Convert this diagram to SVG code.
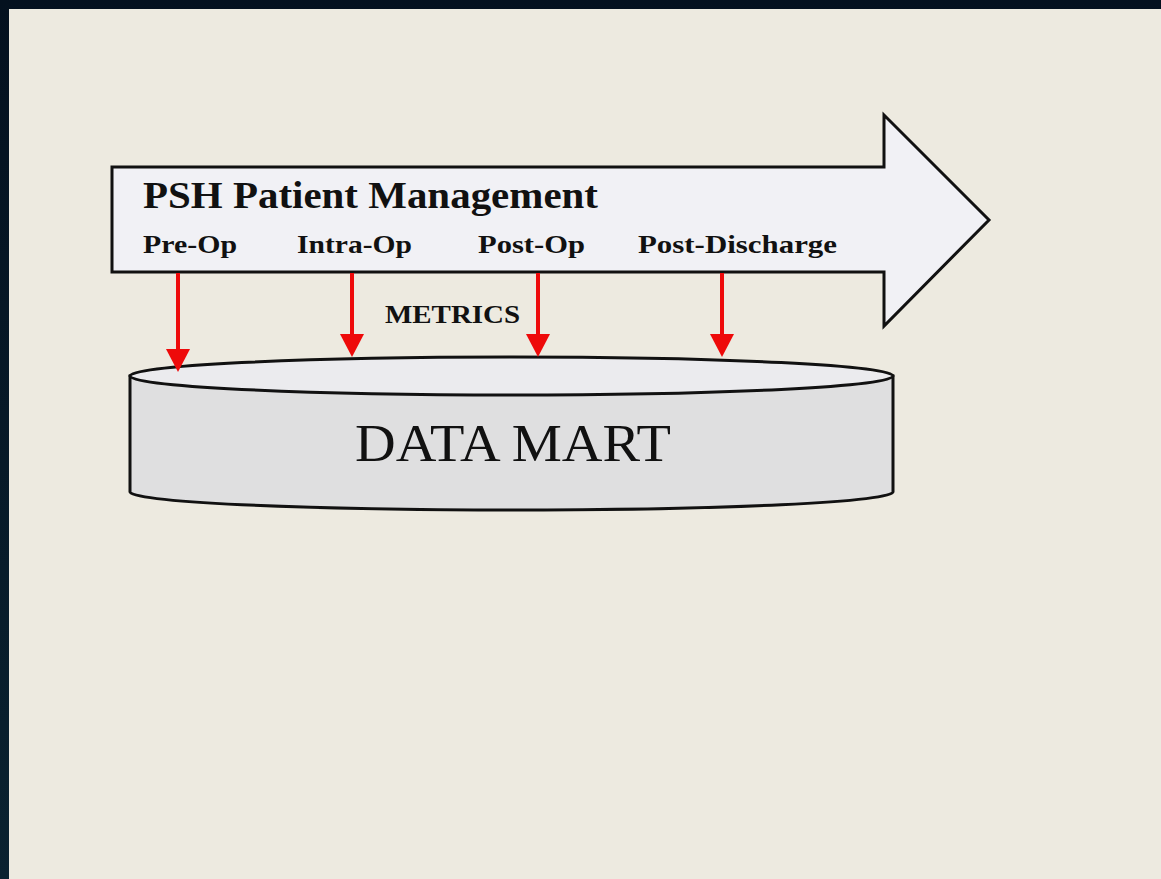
<svg xmlns="http://www.w3.org/2000/svg" width="1161" height="879" viewBox="0 0 1161 879">
<style>
.ttl{font-family:"Liberation Serif","DejaVu Serif",serif;font-weight:bold;fill:#111}
.lbl{font-family:"Liberation Serif","DejaVu Serif",serif;font-weight:bold;fill:#111;font-size:25px}
.big{font-family:"Liberation Serif","DejaVu Serif",serif;fill:#111;font-size:52px}
.shape{stroke:#111;stroke-width:3;stroke-linejoin:miter}
.flow{stroke:#ee0a0a;stroke-width:4;fill:none}
</style>
<defs>
<marker id="ah" markerWidth="6" markerHeight="6" refX="5.5" refY="3" orient="auto" markerUnits="strokeWidth">
<path d="M0,0 L6,3 L0,6 Z" fill="#ee0a0a"/>
</marker>
<linearGradient id="bg" x1="0" y1="0" x2="0" y2="1">
<stop offset="0" stop-color="#04111f"/><stop offset="1" stop-color="#0a2230"/>
</linearGradient>
</defs>
<rect x="0" y="0" width="1161" height="879" fill="url(#bg)"/>
<rect x="9" y="9" width="1152" height="870" fill="#edeae0"/>

<g id="process-arrow">
<path class="shape" d="M112,167 L884,167 L884,115 L989,220 L884,326 L884,272 L112,272 Z" fill="#f1f1f5"/>
<text class="ttl" x="143" y="208" font-size="37" textLength="455" lengthAdjust="spacingAndGlyphs">PSH Patient Management</text>
<text class="lbl" x="143" y="253" textLength="94" lengthAdjust="spacingAndGlyphs">Pre-Op</text>
<text class="lbl" x="297" y="253" textLength="115" lengthAdjust="spacingAndGlyphs">Intra-Op</text>
<text class="lbl" x="478" y="253" textLength="107" lengthAdjust="spacingAndGlyphs">Post-Op</text>
<text class="lbl" x="638" y="253" textLength="199" lengthAdjust="spacingAndGlyphs">Post-Discharge</text>
</g>

<g id="data-mart">
<path class="shape" d="M130,376 L130,492 A381.5,18 0 0 0 893,492 L893,376 Z" fill="#dfdfe0"/>
<ellipse class="shape" cx="511.5" cy="376" rx="381.5" ry="19" fill="#ebebee"/>
<text class="big" x="355" y="461" textLength="316" lengthAdjust="spacingAndGlyphs">DATA MART</text>
</g>

<g id="connectors">
<line class="flow" x1="178" y1="273" x2="178" y2="350"/>
<path d="M166,349 L190,349 L178,372 Z" fill="#ee0a0a"/>
<line class="flow" x1="352" y1="273" x2="352" y2="335"/>
<path d="M340,334 L364,334 L352,357 Z" fill="#ee0a0a"/>
<line class="flow" x1="538" y1="273" x2="538" y2="335"/>
<path d="M526,334 L550,334 L538,357 Z" fill="#ee0a0a"/>
<line class="flow" x1="722" y1="273" x2="722" y2="335"/>
<path d="M710,334 L734,334 L722,357 Z" fill="#ee0a0a"/>
</g>

<g id="metrics-label">
<text class="lbl" x="385" y="323" font-size="25" textLength="135" lengthAdjust="spacingAndGlyphs">METRICS</text>
</g>
</svg>
